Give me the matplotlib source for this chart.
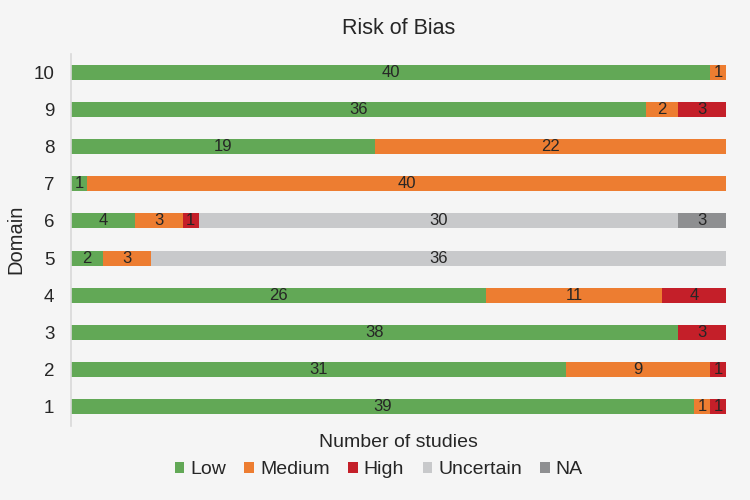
import matplotlib
matplotlib.use("Agg")
import matplotlib.pyplot as plt
import numpy as np

plt.rcParams['font.family'] = ['Liberation Sans', 'DejaVu Sans']

domains = ["1", "2", "3", "4", "5", "6", "7", "8", "9", "10"]
categories = ["Low", "Medium", "High", "Uncertain", "NA"]
low = [39, 31, 38, 26, 2, 4, 1, 19, 36, 40]
medium = [1, 9, 0, 11, 3, 3, 40, 22, 2, 1]
high = [1, 1, 3, 4, 0, 1, 0, 0, 3, 0]
uncertain = [0, 0, 0, 0, 36, 30, 0, 0, 0, 0]
na = [0, 0, 0, 0, 0, 3, 0, 0, 0, 0]
series = [low, medium, high, uncertain, na]
colors = ["#62a856", "#ed7d31", "#c41f29", "#c8c9cb", "#8e8f91"]

bg = "#f5f5f5"
txt = "#262626"
fig = plt.figure(figsize=(7.5, 5), dpi=100, facecolor=bg)
ax = fig.add_axes([0.0947, 0.149, 0.8733, 0.744], facecolor=bg)

y = np.arange(1, len(domains) + 1)
left = np.zeros(len(domains))
for name, vals, col in zip(categories, series, colors):
    vals = np.array(vals, dtype=float)
    bars = ax.barh(y, vals, left=left, height=0.4, color=col, label=name)
    labels = [str(int(v)) if v > 0 else "" for v in vals]
    ax.bar_label(bars, labels=labels, label_type="center", fontsize=12, color=txt)
    left += vals

ax.set_xlim(0, 41)
ax.set_ylim(0.5, 10.5)
ax.set_yticks(y)
ax.set_yticklabels(domains, fontsize=13.5, color=txt)
ax.tick_params(axis="y", length=0, pad=12)
ax.set_xticks([])
for s in ["top", "right", "bottom"]:
    ax.spines[s].set_visible(False)
ax.spines["left"].set_color("#d9d9d9")
ax.spines["left"].set_linewidth(1.2)

ax.set_title("Risk of Bias", fontsize=15.5, color=txt, pad=14)
ax.set_ylabel("Domain", fontsize=14.5, color=txt, labelpad=6)
ax.set_xlabel("Number of studies", fontsize=14, color=txt, labelpad=6)

handles, lbls = ax.get_legend_handles_labels()
fig.legend(handles, lbls, loc="center", bbox_to_anchor=(0.505, 0.06), ncol=5,
           frameon=False, fontsize=14, handlelength=0.5, handleheight=0.5,
           handletextpad=0.3, columnspacing=0.95, labelcolor=txt)

fig.savefig("out.png", dpi=100, facecolor=bg)
